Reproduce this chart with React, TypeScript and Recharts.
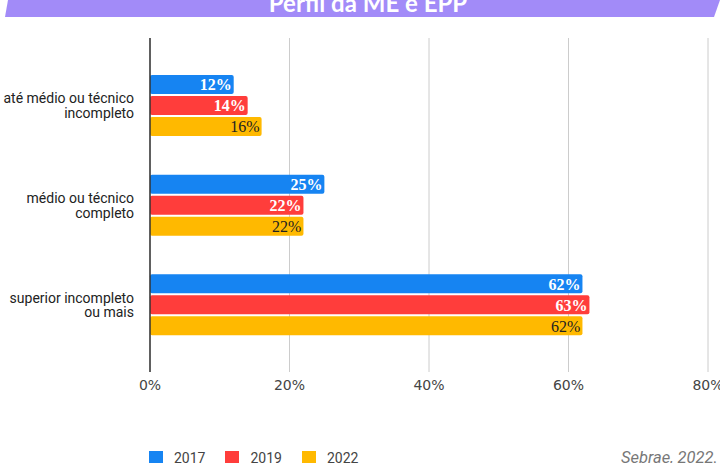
import React from "react";
import { BarChart, Bar, XAxis, YAxis, CartesianGrid, LabelList } from "recharts";

const categories = [
  ["até médio ou técnico", "incompleto"],
  ["médio ou técnico", "completo"],
  ["superior incompleto", "ou mais"],
];
const v2017 = [12, 25, 62];
const v2019 = [14, 22, 63];
const v2022 = [16, 22, 62];
const seriesNames = ["2017", "2019", "2022"];
const seriesColors = ["#1684f2", "#ff3d3b", "#ffb900"];
const xTicks = [0, 20, 40, 60, 80];
const title = "Perfil da ME e EPP";
const source = "Sebrae, 2022.";

const data = categories.map((c, i) => ({
  name: c.join("\n"),
  s2017: v2017[i],
  s2019: v2019[i],
  s2022: v2022[i],
}));
const keys = ["s2017", "s2019", "s2022"];

const YTick = (props: any) => {
  const { x, y, payload } = props;
  const lines = String(payload.value).split("\n");
  return (
    <g>
      {lines.map((l: string, i: number) => (
        <text
          key={i}
          x={x - 8}
          y={y + (i - (lines.length - 1) / 2) * 14.5}
          dy="0.35em"
          textAnchor="end"
          fill="#222"
          fontSize={14}
          fontFamily="Roboto, Arial, sans-serif"
        >
          {l}
        </text>
      ))}
    </g>
  );
};

export default function App() {
  return (
    <div style={{ position: "absolute", left: 0, top: 0, width: 720, height: 463, overflow: "hidden", background: "#fff" }}>
      <svg width={720} height={30} style={{ position: "absolute", left: 0, top: 0 }}>
        <polygon points="8,0 720,0 714,17 5,17" fill="#a28bf8" />
        <text x={368} y={12} textAnchor="middle" fill="#fff" fontSize={24} fontWeight="bold" fontFamily="Lato, 'Open Sans', sans-serif">
          {title}
        </text>
      </svg>
      <div style={{ position: "absolute", left: 0, top: 0 }}>
        <BarChart
          width={720}
          height={463}
          data={data}
          layout="vertical"
          margin={{ top: 38, right: 12, left: 0, bottom: 61 }}
          barSize={19}
          barGap={2}
          barCategoryGap={19}
        >
          <CartesianGrid horizontal={false} stroke="#cccccc" />
          <XAxis
            type="number"
            domain={[0, 80]}
            ticks={xTicks}
            tickFormatter={(v: number) => `${v}%`}
            axisLine={false}
            tickLine={false}
            height={30}
            tick={{ fill: "#444", fontSize: 14, fontFamily: "'DejaVu Sans', sans-serif" }}
            interval={0}
          />
          <YAxis
            type="category"
            dataKey="name"
            width={150}
            axisLine={{ stroke: "#333", strokeWidth: 1.5 }}
            tickLine={false}
            tick={<YTick />}
            padding={{ top: 18, bottom: 17 }}
            interval={0}
          />
          {keys.map((k, i) => (
            <Bar key={k} dataKey={k} name={seriesNames[i]} fill={seriesColors[i]} radius={2} isAnimationActive={false}>
              <LabelList
                dataKey={k}
                position="insideRight"
                offset={2}
                formatter={(v: number) => `${v}%`}
                fill={i === 2 ? "#222" : "#fff"}
                fontSize={16}
                fontWeight={i === 2 ? "normal" : "bold"}
                fontFamily="'Liberation Serif', 'Times New Roman', serif"
              />
            </Bar>
          ))}
        </BarChart>
      </div>
      <div style={{ position: "absolute", left: 149, top: 450, display: "flex", alignItems: "center", fontFamily: "Roboto, Arial, sans-serif", fontSize: 14, color: "#444" }}>
        {seriesNames.map((n, i) => (
          <div key={n} style={{ display: "flex", alignItems: "center", marginRight: 20 }}>
            <div style={{ width: 14, height: 14, background: seriesColors[i], marginRight: 11 }} />
            <span>{n}</span>
          </div>
        ))}
      </div>
      <div style={{ position: "absolute", left: 621, top: 448, fontFamily: "Roboto, Arial, sans-serif", fontSize: 16.5, fontStyle: "italic", color: "#777", whiteSpace: "nowrap" }}>
        {source}
      </div>
    </div>
  );
}
